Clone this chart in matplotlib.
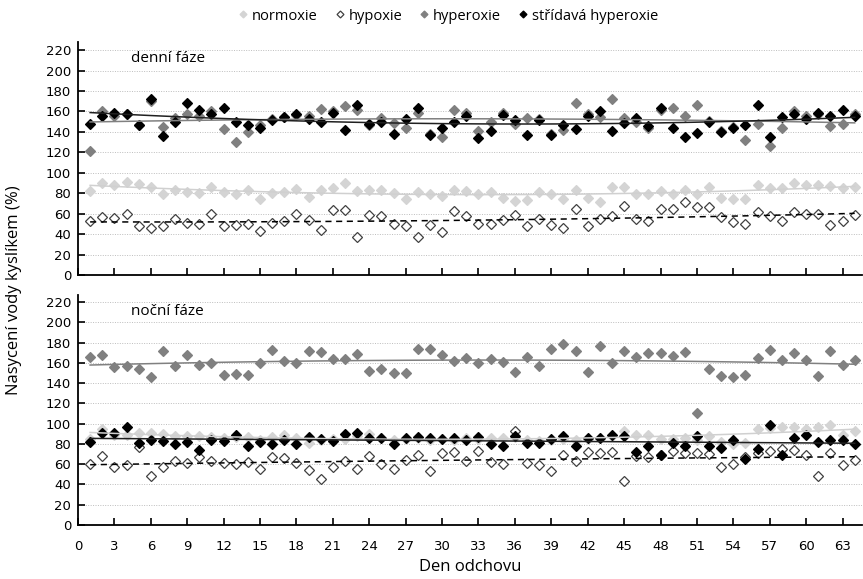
import numpy as np
import matplotlib
matplotlib.use("Agg")
import matplotlib.pyplot as plt
from matplotlib.lines import Line2D

plt.rcParams['font.family'] = ['Open Sans', 'DejaVu Sans']

days = list(range(1, 65))

# ---- denní fáze (day phase) ----
day_normoxie = [82, 90, 88, 91, 89, 86, 79, 83, 81, 80, 86, 81, 79, 83, 74, 80,
                81, 84, 76, 83, 85, 90, 82, 83, 83, 80, 74, 81, 79, 77, 83, 82,
                79, 81, 75, 72, 73, 81, 79, 74, 83, 75, 71, 86, 86, 79, 79, 82,
                79, 83, 79, 86, 75, 74, 74, 88, 85, 85, 90, 88, 88, 87, 85, 86]
day_hypoxie = [53, 57, 56, 60, 48, 46, 48, 55, 51, 50, 60, 48, 49, 50, 43, 51,
               53, 60, 54, 44, 64, 64, 37, 59, 58, 50, 48, 37, 49, 42, 63, 58,
               50, 50, 54, 59, 48, 55, 49, 46, 65, 48, 55, 58, 68, 55, 53, 65,
               65, 71, 67, 67, 57, 52, 50, 62, 58, 53, 62, 60, 60, 49, 53, 59]
day_hyperoxie = [121, 160, 156, 158, 147, 170, 145, 154, 158, 156, 160, 143, 130, 140, 147, 153,
                 155, 157, 156, 162, 160, 165, 161, 147, 154, 149, 144, 159, 138, 135, 161, 159,
                 141, 150, 159, 148, 154, 153, 138, 142, 168, 158, 155, 172, 154, 150, 144, 161,
                 163, 156, 166, 151, 141, 145, 132, 148, 126, 144, 160, 156, 158, 146, 148, 158]
day_stridava = [148, 156, 159, 158, 147, 172, 136, 150, 168, 161, 158, 163, 150, 147, 144, 152,
                155, 158, 153, 150, 159, 142, 166, 148, 150, 138, 153, 163, 137, 144, 150, 156,
                134, 141, 157, 152, 137, 152, 137, 147, 143, 156, 160, 141, 149, 154, 146, 163,
                144, 135, 139, 150, 140, 144, 147, 166, 135, 155, 158, 153, 159, 156, 161, 156]

# ---- noční fáze (night phase) ----
night_normoxie = [85, 95, 89, 89, 91, 91, 90, 88, 88, 88, 87, 86, 87, 87, 84, 87,
                  89, 86, 81, 84, 85, 85, 88, 90, 86, 84, 85, 86, 84, 85, 84, 86,
                  85, 86, 86, 87, 84, 83, 84, 85, 84, 85, 86, 88, 93, 89, 89, 85,
                  85, 86, 84, 88, 82, 80, 81, 95, 96, 97, 97, 95, 97, 99, 89, 93]
night_hypoxie = [60, 68, 57, 59, 77, 48, 57, 63, 61, 67, 63, 61, 60, 62, 55, 67,
                 66, 61, 54, 45, 57, 63, 55, 68, 60, 55, 64, 69, 53, 71, 72, 63,
                 73, 62, 60, 93, 61, 59, 53, 69, 63, 72, 71, 72, 43, 68, 67, 69,
                 73, 71, 71, 70, 57, 60, 67, 71, 73, 75, 74, 69, 48, 71, 59, 64]
night_hyperoxie = [166, 168, 156, 157, 154, 146, 172, 157, 168, 158, 160, 148, 149, 148, 160, 173,
                   162, 160, 172, 171, 164, 164, 169, 152, 154, 150, 150, 174, 174, 168, 162, 165,
                   160, 164, 161, 151, 166, 157, 174, 179, 172, 151, 177, 160, 172, 166, 170, 170,
                   167, 171, 111, 154, 147, 146, 148, 165, 173, 163, 170, 163, 147, 172, 158, 163]
night_stridava = [82, 91, 91, 97, 81, 84, 83, 80, 82, 74, 84, 83, 89, 78, 82, 80,
                  84, 80, 87, 85, 83, 90, 91, 86, 86, 80, 86, 87, 86, 85, 86, 84,
                  87, 80, 78, 88, 81, 81, 85, 88, 78, 86, 86, 89, 88, 72, 78, 69,
                  81, 78, 88, 78, 76, 84, 65, 75, 99, 69, 86, 89, 82, 84, 84, 80]

series_names = ['normoxie', 'hypoxie', 'hyperoxie', 'střídavá hyperoxie']
yticks = list(range(0, 221, 20))
xticks = list(range(0, 64, 3))

LIGHT = '#d4d4d4'
GRAY = '#808080'
styles = [
    dict(marker='D', color=LIGHT, mfc=LIGHT, mec=LIGHT, trend_color='#d0d0d0', ls='-'),
    dict(marker='D', color='#404040', mfc='white', mec='#404040', trend_color='black', ls=(0, (4, 3))),
    dict(marker='D', color=GRAY, mfc=GRAY, mec=GRAY, trend_color=GRAY, ls='-'),
    dict(marker='D', color='black', mfc='black', mec='black', trend_color='#202020', ls='-'),
]

fig = plt.figure(figsize=(8.63, 5.79), dpi=100)
W, H = 863, 579
ax_top = fig.add_axes([78 / W, 1 - 275 / H, (862 - 78) / W, (275 - 42) / H])
ax_bot = fig.add_axes([78 / W, 1 - 525 / H, (862 - 78) / W, (525 - 295) / H])

x = np.array(days)


def draw(ax, data, label_text):
    for vals, st in zip(data, styles):
        ax.plot(x, vals, linestyle='none', marker='D', markersize=5.2,
                markerfacecolor=st['mfc'], markeredgecolor=st['mec'],
                markeredgewidth=0.9, zorder=3)
    for vals, st in zip(data, styles):
        coef = np.polyfit(x, np.array(vals, dtype=float), 2)
        ax.plot(x, np.polyval(coef, x), color=st['trend_color'], linestyle=st['ls'],
                linewidth=1.1, zorder=4)
    ax.set_xlim(0, 64.6)
    ax.set_yticks(yticks)
    ax.set_xticks(xticks)
    ax.grid(axis='y', linestyle=(0, (1, 1.5)), color='#bdbdbd', linewidth=0.7)
    ax.set_axisbelow(True)
    for s in ['top', 'right']:
        ax.spines[s].set_visible(False)
    for s in ['left', 'bottom']:
        ax.spines[s].set_linewidth(1.3)
        ax.spines[s].set_color('black')
    ax.tick_params(direction='in', length=5, width=1.2, colors='black',
                   labelsize=9.5, pad=5)
    for lab in ax.get_yticklabels() + ax.get_xticklabels():
        lab.set_family(['Liberation Sans Narrow', 'DejaVu Sans'])
    ax.text(0.068, 0.93, label_text, transform=ax.transAxes, fontsize=11,
            ha='left', va='center')


draw(ax_top, [day_normoxie, day_hypoxie, day_hyperoxie, day_stridava], 'denní fáze')
ax_top.set_ylim(0, 228)
ax_top.tick_params(axis='x', labelbottom=False)
draw(ax_bot, [night_normoxie, night_hypoxie, night_hyperoxie, night_stridava], 'noční fáze')
ax_bot.set_ylim(0, 227)
ax_bot.tick_params(axis='x', pad=11)

ax_bot.set_xlabel('Den odchovu', fontsize=12, labelpad=4)
fig.text(14 / W, 1 - 290 / H, 'Nasycení vody kyslíkem (%)', rotation=90,
         ha='center', va='center', fontsize=12)

handles = [Line2D([], [], linestyle='none', marker='D', markersize=3.5,
                  markerfacecolor=st['mfc'], markeredgecolor=st['mec'],
                  markeredgewidth=0.9) for st in styles]
fig.legend(handles, series_names, loc='center', bbox_to_anchor=(447 / W, 1 - 16 / H),
           ncol=4, frameon=False, fontsize=10.5, handletextpad=0.1, columnspacing=1.0,
           handlelength=1.0)

fig.savefig('out.png', dpi=100)
